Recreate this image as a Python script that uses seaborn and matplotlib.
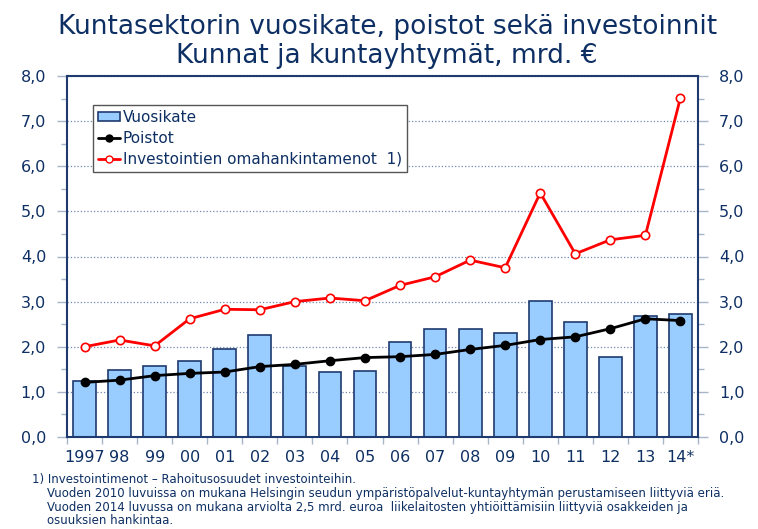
import matplotlib
matplotlib.use("Agg")
import matplotlib.pyplot as plt
from matplotlib.patches import Patch
from matplotlib.lines import Line2D
from matplotlib.ticker import MultipleLocator, FuncFormatter
import numpy as np
import seaborn as sns

# data (mrd. EUR)
years = ["1997", "98", "99", "00", "01", "02", "03", "04", "05",
         "06", "07", "08", "09", "10", "11", "12", "13", "14*"]
vuosikate = [1.25, 1.49, 1.58, 1.69, 1.95, 2.26, 1.58, 1.43, 1.47,
             2.10, 2.39, 2.40, 2.30, 3.02, 2.54, 1.78, 2.69, 2.73]
poistot = [1.21, 1.26, 1.36, 1.41, 1.44, 1.56, 1.61, 1.69, 1.76,
           1.78, 1.83, 1.94, 2.03, 2.16, 2.22, 2.40, 2.62, 2.58]
investoinnit = [2.00, 2.15, 2.02, 2.62, 2.83, 2.82, 3.00, 3.08, 3.02,
                3.36, 3.55, 3.92, 3.75, 5.41, 4.06, 4.37, 4.47, 7.52]

legend_labels = ["Vuosikate", "Poistot", "Investointien omahankintamenot  1)"]
title_lines = ["Kuntasektorin vuosikate, poistot sekä investoinnit",
               "Kunnat ja kuntayhtymät, mrd. €"]
footnote = [
    "1) Investointimenot – Rahoitusosuudet investointeihin.",
    "    Vuoden 2010 luvuissa on mukana Helsingin seudun ympäristöpalvelut-kuntayhtymän perustamiseen liittyviä eriä.",
    "    Vuoden 2014 luvussa on mukana arviolta 2,5 mrd. euroa  liikelaitosten yhtiöittämisiin liittyviä osakkeiden ja",
    "    osuuksien hankintaa.",
]

NAVY = "#0d2f63"
SPINE = "#1f3a6e"
TICK = "#a8b4c8"
BAR = "#99ccff"

sns.set_theme(style="white")
plt.rcParams["font.family"] = ["DejaVu Sans"]

fig = plt.figure(figsize=(7.58, 5.29), dpi=100)
ax = fig.add_axes([67 / 758, 1 - 437 / 529, 631 / 758, 361 / 529])

sns.barplot(x=years, y=vuosikate, color=BAR, saturation=1, width=0.65,
            edgecolor=SPINE, linewidth=1.2, ax=ax, zorder=2)
xpos = np.arange(len(years))
ax.plot(xpos, poistot, color="black", lw=2, marker="o", ms=6, zorder=3)
ax.plot(xpos, investoinnit, color="#ff0000", lw=2, marker="o", ms=6,
        mfc="white", mec="#ff0000", mew=1.2, zorder=4)

ax.set_xlim(-0.5, len(years) - 0.5)
ax.set_ylim(0, 8)
ax.set_xlabel("")
ax.set_ylabel("")

# y axis on both sides
ax.yaxis.set_major_locator(MultipleLocator(1))
ax.yaxis.set_minor_locator(MultipleLocator(0.5))
ax.yaxis.set_major_formatter(FuncFormatter(lambda v, p: f"{v:.1f}".replace(".", ",")))
ax.tick_params(axis="y", which="major", direction="out", length=7, width=1,
               color=TICK, labelsize=11.5, labelcolor=NAVY,
               left=True, right=True, labelleft=True, labelright=True, pad=8)
ax.tick_params(axis="y", which="minor", direction="out", length=4, width=1,
               color=TICK, left=True, right=True)

# category axis: labels centred, tick marks between categories
ax.set_xticks(xpos)
ax.set_xticklabels(years)
ax.set_xticks(np.arange(-0.5, len(years), 1), minor=True)
ax.tick_params(axis="x", which="major", length=0, labelsize=11.5,
               labelcolor=NAVY, pad=9)
ax.tick_params(axis="x", which="minor", direction="out", length=5,
               width=1, color=TICK, bottom=True)

ax.yaxis.grid(True, which="major", linestyle=":", color="#7088b0", lw=0.9)
ax.set_axisbelow(True)
for s in ax.spines.values():
    s.set_visible(True)
    s.set_color(SPINE)
    s.set_linewidth(1.5)

handles = [
    Patch(facecolor=BAR, edgecolor=SPINE, linewidth=1.2),
    Line2D([], [], color="black", lw=2, marker="o", ms=5),
    Line2D([], [], color="#ff0000", lw=2, marker="o", ms=5,
           mfc="white", mec="#ff0000"),
]
leg = ax.legend(handles, legend_labels, loc="upper left",
                bbox_to_anchor=(0.041, 0.92), fancybox=False, framealpha=1,
                edgecolor="#555555", fontsize=11, handlelength=1.45,
                handleheight=0.5, handletextpad=0.15, labelspacing=0.38,
                borderpad=0.35, borderaxespad=0)
for t in leg.get_texts():
    t.set_color(NAVY)
leg.get_frame().set_linewidth(1)

# title
fig.text(0.511, 1 - 34 / 529, title_lines[0], ha="center", va="baseline",
         color=NAVY, fontsize=19)
fig.text(0.51, 1 - 63 / 529, title_lines[1], ha="center", va="baseline",
         color=NAVY, fontsize=19)

# footnote
for i, line in enumerate(footnote):
    fig.text(32 / 758, 1 - (483 + 13.8 * i) / 529, line, ha="left",
             va="baseline", color=NAVY, fontsize=8.5)

fig.savefig("out.png", dpi=100, facecolor="white")
